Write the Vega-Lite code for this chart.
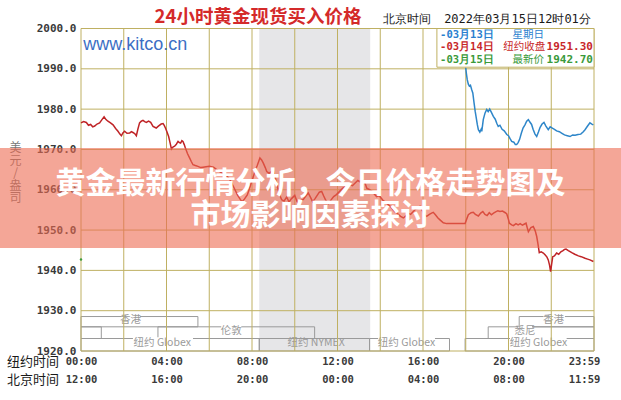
{
  "$schema": "https://vega.github.io/schema/vega-lite/v6.json",
  "width": 513,
  "height": 322.5,
  "autosize": {"type": "none"},
  "padding": {"left": 81, "top": 28.5, "right": 27, "bottom": 49},
  "background": "white",
  "config": {"view": {"stroke": null}},
  "resolve": {"axis": {"x": "independent", "y": "independent"}},
  "datasets": {
    "band": [{"h1": 8.34, "h2": 13.53}],
    "sessions": [
      {"name": "香港A", "h1": 0, "h2": 5.47, "top": 1928.55, "bot": 1926.0},
      {"name": "香港B", "h1": 20.5, "h2": 24, "top": 1928.55, "bot": 1926.0},
      {"name": "悉尼A", "h1": 0, "h2": 0.95, "top": 1926.0, "bot": 1923.1},
      {"name": "伦敦", "h1": 3.6, "h2": 10.93, "top": 1926.0, "bot": 1923.1},
      {"name": "悉尼B", "h1": 19.05, "h2": 24, "top": 1926.0, "bot": 1923.1},
      {"name": "GlobexA", "h1": 0, "h2": 8.34, "top": 1923.1, "bot": 1920},
      {"name": "NYMEX", "h1": 8.34, "h2": 13.5, "top": 1923.1, "bot": 1920},
      {"name": "GlobexB", "h1": 13.5, "h2": 17.24, "top": 1923.1, "bot": 1920},
      {"name": "GlobexC", "h1": 17.97, "h2": 24, "top": 1923.1, "bot": 1920}
    ],
    "covers": [
      {"h1": 1.88, "h2": 2.75, "p1": 1928.25, "p2": 1928.85},
      {"h1": 2.43, "h2": 5.24, "p1": 1922.8, "p2": 1923.4},
      {"h1": 6.56, "h2": 7.5, "p1": 1925.7, "p2": 1926.3},
      {"h1": 13.9, "h2": 16.56, "p1": 1922.8, "p2": 1923.4},
      {"h1": 20.07, "h2": 22.72, "p1": 1922.8, "p2": 1923.4},
      {"h1": 20.45, "h2": 21.1, "p1": 1925.7, "p2": 1926.3},
      {"h1": 21.63, "h2": 22.64, "p1": 1928.25, "p2": 1928.85}
    ],
    "sessionLabels": [
      {"h": 2.31, "p": 1927.6, "t": "香港"},
      {"h": 3.8, "p": 1922.0, "t": "纽约 Globex"},
      {"h": 7.03, "p": 1924.9, "t": "伦敦"},
      {"h": 11.0, "p": 1922.0, "t": "纽约 NYMEX"},
      {"h": 15.23, "p": 1922.0, "t": "纽约 Globex"},
      {"h": 20.77, "p": 1924.9, "t": "悉尼"},
      {"h": 22.1, "p": 1927.6, "t": "香港"},
      {"h": 21.4, "p": 1922.0, "t": "纽约 Globex"}
    ],
    "gridV": [{"h": 0}, {"h": 2}, {"h": 4}, {"h": 6}, {"h": 8}, {"h": 10}, {"h": 12}, {"h": 14}, {"h": 16}, {"h": 18}, {"h": 20}, {"h": 22}, {"h": 24}],
    "gridH": [{"p": 1920}, {"p": 1930}, {"p": 1940}, {"p": 1950}, {"p": 1960}, {"p": 1970}, {"p": 1980}, {"p": 1990}, {"p": 2000}],
    "red": [
      {"h": 0.00, "p": 1976.6}, {"h": 0.12, "p": 1976.9}, {"h": 0.25, "p": 1976.7}, {"h": 0.35, "p": 1976.0}, {"h": 0.45, "p": 1976.2},
      {"h": 0.55, "p": 1975.6}, {"h": 0.64, "p": 1975.8}, {"h": 0.75, "p": 1976.3}, {"h": 0.87, "p": 1976.6}, {"h": 0.98, "p": 1977.4},
      {"h": 1.08, "p": 1978.1}, {"h": 1.17, "p": 1977.4}, {"h": 1.26, "p": 1977.0}, {"h": 1.38, "p": 1976.6}, {"h": 1.50, "p": 1976.1},
      {"h": 1.62, "p": 1975.2}, {"h": 1.73, "p": 1974.5}, {"h": 1.82, "p": 1973.8}, {"h": 1.89, "p": 1973.4}, {"h": 1.96, "p": 1974.1},
      {"h": 2.04, "p": 1974.5}, {"h": 2.15, "p": 1974.0}, {"h": 2.28, "p": 1974.1}, {"h": 2.36, "p": 1974.4}, {"h": 2.43, "p": 1974.2},
      {"h": 2.52, "p": 1973.9}, {"h": 2.59, "p": 1973.4}, {"h": 2.66, "p": 1975.0}, {"h": 2.74, "p": 1976.6}, {"h": 2.82, "p": 1977.0},
      {"h": 2.90, "p": 1977.2}, {"h": 2.98, "p": 1976.9}, {"h": 3.06, "p": 1976.7}, {"h": 3.16, "p": 1977.0}, {"h": 3.26, "p": 1976.7},
      {"h": 3.37, "p": 1975.7}, {"h": 3.45, "p": 1975.5}, {"h": 3.52, "p": 1975.3}, {"h": 3.58, "p": 1975.6}, {"h": 3.65, "p": 1975.9},
      {"h": 3.75, "p": 1976.3}, {"h": 3.84, "p": 1976.4}, {"h": 3.90, "p": 1975.9}, {"h": 3.95, "p": 1975.3}, {"h": 4.02, "p": 1974.4},
      {"h": 4.10, "p": 1973.2}, {"h": 4.16, "p": 1971.8}, {"h": 4.23, "p": 1970.1}, {"h": 4.30, "p": 1970.6}, {"h": 4.38, "p": 1970.8},
      {"h": 4.46, "p": 1971.3}, {"h": 4.54, "p": 1972.0}, {"h": 4.60, "p": 1971.7}, {"h": 4.66, "p": 1971.6}, {"h": 4.72, "p": 1972.2},
      {"h": 4.77, "p": 1972.0}, {"h": 4.83, "p": 1971.2}, {"h": 4.88, "p": 1970.4}, {"h": 4.98, "p": 1969.0}, {"h": 5.08, "p": 1967.9},
      {"h": 5.16, "p": 1967.0}, {"h": 5.24, "p": 1966.2}, {"h": 5.35, "p": 1966.0}, {"h": 5.47, "p": 1965.8}, {"h": 5.60, "p": 1965.5},
      {"h": 5.71, "p": 1965.6}, {"h": 5.85, "p": 1965.7}, {"h": 6.00, "p": 1965.8}, {"h": 6.20, "p": 1965.6}, {"h": 6.35, "p": 1965.0},
      {"h": 6.49, "p": 1964.5}, {"h": 6.65, "p": 1963.9}, {"h": 6.86, "p": 1963.2}, {"h": 7.00, "p": 1962.2}, {"h": 7.13, "p": 1960.8},
      {"h": 7.25, "p": 1959.5}, {"h": 7.32, "p": 1958.7}, {"h": 7.45, "p": 1957.6}, {"h": 7.54, "p": 1957.0}, {"h": 7.62, "p": 1957.5},
      {"h": 7.70, "p": 1958.1}, {"h": 7.78, "p": 1958.7}, {"h": 7.90, "p": 1960.6}, {"h": 8.06, "p": 1963.2}, {"h": 8.15, "p": 1964.8},
      {"h": 8.25, "p": 1966.1}, {"h": 8.37, "p": 1967.9}, {"h": 8.45, "p": 1967.4}, {"h": 8.53, "p": 1966.6}, {"h": 8.62, "p": 1965.5},
      {"h": 8.69, "p": 1964.5}, {"h": 8.80, "p": 1964.1}, {"h": 8.90, "p": 1964.5}, {"h": 8.99, "p": 1964.9}, {"h": 9.10, "p": 1962.8},
      {"h": 9.20, "p": 1960.5}, {"h": 9.30, "p": 1958.6}, {"h": 9.39, "p": 1957.5}, {"h": 9.50, "p": 1957.2}, {"h": 9.62, "p": 1958.2},
      {"h": 9.73, "p": 1957.0}, {"h": 9.85, "p": 1957.8}, {"h": 10.00, "p": 1958.6}, {"h": 10.10, "p": 1957.2}, {"h": 10.20, "p": 1956.4},
      {"h": 10.30, "p": 1957.3}, {"h": 10.40, "p": 1957.6}, {"h": 10.50, "p": 1958.3}, {"h": 10.63, "p": 1959.2}, {"h": 10.75, "p": 1958.0},
      {"h": 10.84, "p": 1957.0}, {"h": 10.95, "p": 1957.8}, {"h": 11.05, "p": 1958.6}, {"h": 11.15, "p": 1959.4}, {"h": 11.26, "p": 1959.6},
      {"h": 11.35, "p": 1958.5}, {"h": 11.45, "p": 1957.4}, {"h": 11.58, "p": 1956.6}, {"h": 11.70, "p": 1957.5}, {"h": 11.82, "p": 1958.3},
      {"h": 11.95, "p": 1958.8}, {"h": 12.10, "p": 1959.6}, {"h": 12.25, "p": 1960.4}, {"h": 12.40, "p": 1960.8}, {"h": 12.55, "p": 1961.3},
      {"h": 12.70, "p": 1961.0}, {"h": 12.85, "p": 1961.8}, {"h": 12.95, "p": 1962.3}, {"h": 13.05, "p": 1962.0}, {"h": 13.16, "p": 1962.6},
      {"h": 13.28, "p": 1961.8}, {"h": 13.37, "p": 1960.4}, {"h": 13.50, "p": 1960.0}, {"h": 13.62, "p": 1959.6}, {"h": 13.71, "p": 1959.0},
      {"h": 13.83, "p": 1958.3}, {"h": 13.95, "p": 1958.5}, {"h": 14.05, "p": 1957.9}, {"h": 14.14, "p": 1957.3}, {"h": 14.27, "p": 1956.8},
      {"h": 14.40, "p": 1956.2}, {"h": 14.50, "p": 1955.7}, {"h": 14.61, "p": 1955.0}, {"h": 14.72, "p": 1954.4}, {"h": 14.82, "p": 1954.0},
      {"h": 14.95, "p": 1953.4}, {"h": 15.08, "p": 1953.0}, {"h": 15.20, "p": 1953.5}, {"h": 15.30, "p": 1954.2}, {"h": 15.42, "p": 1953.9},
      {"h": 15.55, "p": 1954.6}, {"h": 15.66, "p": 1955.2}, {"h": 15.78, "p": 1955.4}, {"h": 15.86, "p": 1955.9}, {"h": 15.95, "p": 1955.0},
      {"h": 16.05, "p": 1953.9}, {"h": 16.17, "p": 1953.4}, {"h": 16.30, "p": 1953.9}, {"h": 16.40, "p": 1954.2}, {"h": 16.48, "p": 1954.4},
      {"h": 16.58, "p": 1953.8}, {"h": 16.70, "p": 1953.0}, {"h": 16.82, "p": 1952.4}, {"h": 16.95, "p": 1951.8}, {"h": 17.10, "p": 1951.6},
      {"h": 17.97, "p": 1951.6}, {"h": 18.05, "p": 1952.8}, {"h": 18.12, "p": 1953.8}, {"h": 18.25, "p": 1954.3}, {"h": 18.35, "p": 1954.4},
      {"h": 18.45, "p": 1953.9}, {"h": 18.59, "p": 1953.5}, {"h": 18.70, "p": 1954.2}, {"h": 18.80, "p": 1954.6}, {"h": 18.90, "p": 1953.9},
      {"h": 19.00, "p": 1953.6}, {"h": 19.10, "p": 1954.3}, {"h": 19.20, "p": 1953.8}, {"h": 19.30, "p": 1954.2}, {"h": 19.40, "p": 1954.5},
      {"h": 19.50, "p": 1954.8}, {"h": 19.60, "p": 1954.6}, {"h": 19.72, "p": 1954.7}, {"h": 19.85, "p": 1954.3}, {"h": 19.92, "p": 1954.0},
      {"h": 20.00, "p": 1952.6}, {"h": 20.04, "p": 1951.7}, {"h": 20.15, "p": 1951.3}, {"h": 20.23, "p": 1951.1}, {"h": 20.35, "p": 1951.6},
      {"h": 20.45, "p": 1951.3}, {"h": 20.55, "p": 1951.6}, {"h": 20.65, "p": 1951.2}, {"h": 20.75, "p": 1951.5}, {"h": 20.82, "p": 1951.7},
      {"h": 20.88, "p": 1950.5}, {"h": 20.93, "p": 1949.6}, {"h": 21.05, "p": 1950.6}, {"h": 21.16, "p": 1950.9}, {"h": 21.25, "p": 1949.8},
      {"h": 21.32, "p": 1948.4}, {"h": 21.38, "p": 1946.5}, {"h": 21.44, "p": 1944.4}, {"h": 21.53, "p": 1944.6}, {"h": 21.63, "p": 1944.3},
      {"h": 21.72, "p": 1943.8}, {"h": 21.80, "p": 1943.3}, {"h": 21.86, "p": 1942.6}, {"h": 21.92, "p": 1941.3}, {"h": 21.97, "p": 1939.7},
      {"h": 22.02, "p": 1941.6}, {"h": 22.07, "p": 1943.4}, {"h": 22.15, "p": 1943.6}, {"h": 22.25, "p": 1944.3}, {"h": 22.35, "p": 1944.0},
      {"h": 22.45, "p": 1944.6}, {"h": 22.55, "p": 1944.9}, {"h": 22.62, "p": 1945.2}, {"h": 22.69, "p": 1945.3}, {"h": 22.80, "p": 1944.9},
      {"h": 22.90, "p": 1944.6}, {"h": 22.96, "p": 1944.4}, {"h": 23.10, "p": 1944.0}, {"h": 23.27, "p": 1943.6}, {"h": 23.40, "p": 1943.4},
      {"h": 23.58, "p": 1943.0}, {"h": 23.70, "p": 1942.8}, {"h": 23.81, "p": 1942.6}, {"h": 23.97, "p": 1942.2}
    ],
    "blue": [
      {"h": 18.00, "p": 1990.2}, {"h": 18.03, "p": 1988.8}, {"h": 18.07, "p": 1987.3}, {"h": 18.12, "p": 1986.2}, {"h": 18.17, "p": 1985.7},
      {"h": 18.22, "p": 1985.9}, {"h": 18.28, "p": 1984.8}, {"h": 18.33, "p": 1984.0}, {"h": 18.39, "p": 1981.5}, {"h": 18.44, "p": 1979.5},
      {"h": 18.48, "p": 1978.2}, {"h": 18.54, "p": 1976.2}, {"h": 18.59, "p": 1974.9}, {"h": 18.66, "p": 1974.3}, {"h": 18.72, "p": 1975.0},
      {"h": 18.75, "p": 1974.5}, {"h": 18.82, "p": 1977.4}, {"h": 18.90, "p": 1979.0}, {"h": 18.98, "p": 1979.9}, {"h": 19.05, "p": 1979.4},
      {"h": 19.12, "p": 1980.0}, {"h": 19.20, "p": 1979.2}, {"h": 19.29, "p": 1978.2}, {"h": 19.38, "p": 1977.5}, {"h": 19.45, "p": 1976.5},
      {"h": 19.52, "p": 1975.7}, {"h": 19.60, "p": 1976.0}, {"h": 19.70, "p": 1975.0}, {"h": 19.80, "p": 1974.6}, {"h": 19.92, "p": 1973.7},
      {"h": 20.00, "p": 1973.4}, {"h": 20.08, "p": 1972.6}, {"h": 20.15, "p": 1972.0}, {"h": 20.25, "p": 1971.8}, {"h": 20.32, "p": 1971.2},
      {"h": 20.38, "p": 1971.2}, {"h": 20.45, "p": 1971.7}, {"h": 20.52, "p": 1972.5}, {"h": 20.60, "p": 1974.0}, {"h": 20.68, "p": 1975.3},
      {"h": 20.77, "p": 1976.1}, {"h": 20.85, "p": 1977.0}, {"h": 20.93, "p": 1977.4}, {"h": 21.00, "p": 1976.8}, {"h": 21.08, "p": 1976.2},
      {"h": 21.15, "p": 1975.0}, {"h": 21.24, "p": 1973.8}, {"h": 21.32, "p": 1973.2}, {"h": 21.40, "p": 1974.3}, {"h": 21.48, "p": 1975.5},
      {"h": 21.57, "p": 1976.3}, {"h": 21.66, "p": 1976.7}, {"h": 21.75, "p": 1975.8}, {"h": 21.86, "p": 1974.9}, {"h": 21.95, "p": 1975.6},
      {"h": 22.05, "p": 1975.3}, {"h": 22.15, "p": 1975.0}, {"h": 22.25, "p": 1974.6}, {"h": 22.38, "p": 1974.4}, {"h": 22.50, "p": 1974.0},
      {"h": 22.62, "p": 1973.6}, {"h": 22.75, "p": 1973.4}, {"h": 22.88, "p": 1973.2}, {"h": 23.00, "p": 1973.6}, {"h": 23.12, "p": 1973.5},
      {"h": 23.25, "p": 1973.7}, {"h": 23.38, "p": 1973.8}, {"h": 23.50, "p": 1974.4}, {"h": 23.58, "p": 1974.9}, {"h": 23.70, "p": 1975.8},
      {"h": 23.81, "p": 1976.6}, {"h": 23.90, "p": 1976.3}, {"h": 23.97, "p": 1976.1}
    ],
    "green": [{"h": 0, "p": 1942.7}],
    "legendBox": [{"h1": 16.65, "h2": 24, "p1": 1990.4, "p2": 2000}],
    "legendLeft": [
      {"h": 16.8, "p": 1998.5, "t": "-03月13日", "s": "13"},
      {"h": 16.8, "p": 1995.4, "t": "-03月14日", "s": "14"},
      {"h": 16.8, "p": 1992.3, "t": "-03月15日", "s": "15"}
    ],
    "legendMid": [
      {"h": 21.66, "p": 1998.5, "t": "星期日", "s": "13"},
      {"h": 21.72, "p": 1995.4, "t": "纽约收盘", "s": "14"},
      {"h": 21.66, "p": 1992.3, "t": "最新价", "s": "15"}
    ],
    "legendNum": [
      {"h": 23.95, "p": 1995.4, "t": "1951.30", "s": "14"},
      {"h": 23.95, "p": 1992.3, "t": "1942.70", "s": "15"}
    ],
    "title": [{"h": 8.28, "p": 2002.95, "t": "24小时黄金现货买入价格"}],
    "header": [
      {"h": 15.23, "p": 2002.35, "t": "北京时间"},
      {"h": 20.42, "p": 2002.35, "t": "2022年03月15日12时01分"}
    ],
    "site": [{"h": 0.1, "p": 1995.9, "t": "www.kitco.cn"}],
    "rowHeads": [
      {"h": -1.03, "p": 1917.25, "t": "纽约时间"},
      {"h": -1.03, "p": 1912.8, "t": "北京时间"}
    ],
    "banner": [{"h1": -3.8, "h2": 25.3, "p1": 1945.55, "p2": 1970.35}],
    "bannerText": [
      {"h": 10.74, "p": 1961.4, "t": "黄金最新行情分析，今日价格走势图及"},
      {"h": 10.74, "p": 1953.5, "t": "市场影响因素探讨"}
    ]
  },
  "layer": [
    {
      "data": {"name": "band"},
      "mark": {"type": "rect", "color": "#e6e6e8"},
      "encoding": {
        "x": {"field": "h1", "type": "quantitative", "scale": {"domain": [0, 24], "nice": false, "zero": false},
          "axis": {
            "values": [0, 4, 8, 12, 16, 20, 24],
            "labelExpr": "datum.value==0?['00:00','12:00']:datum.value==4?['04:00','16:00']:datum.value==8?['08:00','20:00']:datum.value==12?['12:00','00:00']:datum.value==16?['16:00','04:00']:datum.value==20?['20:00','08:00']:['23:59','11:59']",
            "labelOffset": {"condition": {"test": "datum.value == 24", "value": -10}, "value": 0},
            "grid": false, "ticks": false, "domain": false, "title": null,
            "labelPadding": 5, "labelFont": "DejaVu Sans Mono", "labelFontWeight": "bold", "labelFontSize": 10.5,
            "labelColor": "#3a3a3a", "labelLineHeight": 18, "labelBaseline": "top", "labelFlush": false, "labelOverlap": false, "zindex": 0
          }},
        "x2": {"field": "h2"},
        "y": {"datum": 1920, "type": "quantitative", "scale": {"domain": [1920, 2000], "nice": false, "zero": false},
          "axis": {
            "values": [1920, 1930, 1940, 1950, 1960, 1970, 1980, 1990, 2000],
            "format": ".1f", "grid": false, "ticks": false, "domain": false,
            "labelPadding": 5, "labelFont": "DejaVu Sans Mono", "labelFontWeight": "bold", "labelFontSize": 11,
            "labelColor": "#3a3a3a", "zindex": 0,
            "title": ["美", "元", "/", "盎", "司"], "titleAngle": 0, "titleFont": "Noto Sans CJK SC", "titleFontWeight": "normal",
            "titleFontSize": 12, "titleColor": "#777", "titleLineHeight": 12.5, "titleX": -66, "titleY": 114, "titleAlign": "center", "titleBaseline": "top"
          }},
        "y2": {"datum": 2000}
      }
    },
    {
      "data": {"name": "sessions"},
      "mark": {"type": "rect", "fillOpacity": 0, "stroke": "#9a9a9a", "strokeWidth": 1},
      "encoding": {
        "x": {"field": "h1", "type": "quantitative", "scale": {"domain": [0, 24]}, "axis": null},
        "x2": {"field": "h2"},
        "y": {"field": "top", "type": "quantitative", "scale": {"domain": [1920, 2000]}, "axis": null},
        "y2": {"field": "bot"}
      }
    },
    {
      "data": {"name": "covers"},
      "mark": {"type": "rect", "color": "white"},
      "encoding": {
        "x": {"field": "h1", "type": "quantitative", "scale": {"domain": [0, 24]}, "axis": null},
        "x2": {"field": "h2"},
        "y": {"field": "p1", "type": "quantitative", "scale": {"domain": [1920, 2000]}, "axis": null},
        "y2": {"field": "p2"}
      }
    },
    {
      "data": {"name": "sessionLabels"},
      "mark": {"type": "text", "font": "Noto Sans CJK SC", "fontSize": 10.5, "color": "#9a9a9a", "baseline": "middle", "align": "center"},
      "encoding": {
        "x": {"field": "h", "type": "quantitative", "scale": {"domain": [0, 24]}, "axis": null},
        "y": {"field": "p", "type": "quantitative", "scale": {"domain": [1920, 2000]}, "axis": null},
        "text": {"field": "t"}
      }
    },
    {
      "data": {"name": "gridV"},
      "mark": {"type": "rule", "color": "#bfb062", "strokeWidth": 1},
      "encoding": {
        "x": {"field": "h", "type": "quantitative", "scale": {"domain": [0, 24]}, "axis": null}
      }
    },
    {
      "data": {"name": "gridH"},
      "mark": {"type": "rule", "color": "#bfb062", "strokeWidth": 1},
      "encoding": {
        "y": {"field": "p", "type": "quantitative", "scale": {"domain": [1920, 2000]}, "axis": null}
      }
    },
    {
      "data": {"name": "site"},
      "mark": {"type": "text", "font": "Liberation Sans", "fontSize": 18, "color": "#3d6fc4", "align": "left", "baseline": "middle"},
      "encoding": {
        "x": {"field": "h", "type": "quantitative", "scale": {"domain": [0, 24]}, "axis": null},
        "y": {"field": "p", "type": "quantitative", "scale": {"domain": [1920, 2000]}, "axis": null},
        "text": {"field": "t"}
      }
    },
    {
      "data": {"name": "red"},
      "mark": {"type": "line", "color": "#bf2326", "strokeWidth": 1.5},
      "encoding": {
        "x": {"field": "h", "type": "quantitative", "scale": {"domain": [0, 24]}, "axis": null},
        "y": {"field": "p", "type": "quantitative", "scale": {"domain": [1920, 2000]}, "axis": null}
      }
    },
    {
      "data": {"name": "legendBox"},
      "mark": {"type": "rect", "fill": "white", "stroke": "#bfb062", "strokeWidth": 1},
      "encoding": {
        "x": {"field": "h1", "type": "quantitative", "scale": {"domain": [0, 24]}, "axis": null},
        "x2": {"field": "h2"},
        "y": {"field": "p1", "type": "quantitative", "scale": {"domain": [1920, 2000]}, "axis": null},
        "y2": {"field": "p2"}
      }
    },
    {
      "data": {"name": "blue"},
      "mark": {"type": "line", "color": "#2e86c9", "strokeWidth": 1.5},
      "encoding": {
        "x": {"field": "h", "type": "quantitative", "scale": {"domain": [0, 24]}, "axis": null},
        "y": {"field": "p", "type": "quantitative", "scale": {"domain": [1920, 2000]}, "axis": null}
      }
    },
    {
      "data": {"name": "green"},
      "mark": {"type": "point", "filled": true, "size": 6, "color": "#3c9c3c", "opacity": 1},
      "encoding": {
        "x": {"field": "h", "type": "quantitative", "scale": {"domain": [0, 24]}, "axis": null},
        "y": {"field": "p", "type": "quantitative", "scale": {"domain": [1920, 2000]}, "axis": null}
      }
    },
    {
      "data": {"name": "legendLeft"},
      "mark": {"type": "text", "font": "DejaVu Sans Mono", "fontWeight": "bold", "fontSize": 10.5, "align": "left", "baseline": "middle"},
      "encoding": {
        "x": {"field": "h", "type": "quantitative", "scale": {"domain": [0, 24]}, "axis": null},
        "y": {"field": "p", "type": "quantitative", "scale": {"domain": [1920, 2000]}, "axis": null},
        "text": {"field": "t"},
        "color": {"field": "s", "type": "nominal", "scale": {"domain": ["13", "14", "15"], "range": ["#2a7fcf", "#c8282a", "#3a9a3a"]}, "legend": null}
      }
    },
    {
      "data": {"name": "legendMid"},
      "mark": {"type": "text", "font": "Noto Sans CJK SC", "fontSize": 10.5, "align": "right", "baseline": "middle"},
      "encoding": {
        "x": {"field": "h", "type": "quantitative", "scale": {"domain": [0, 24]}, "axis": null},
        "y": {"field": "p", "type": "quantitative", "scale": {"domain": [1920, 2000]}, "axis": null},
        "text": {"field": "t"},
        "color": {"field": "s", "type": "nominal", "scale": {"domain": ["13", "14", "15"], "range": ["#2a7fcf", "#c8282a", "#3a9a3a"]}, "legend": null}
      }
    },
    {
      "data": {"name": "legendNum"},
      "mark": {"type": "text", "font": "DejaVu Sans Mono", "fontWeight": "bold", "fontSize": 11, "align": "right", "baseline": "middle"},
      "encoding": {
        "x": {"field": "h", "type": "quantitative", "scale": {"domain": [0, 24]}, "axis": null},
        "y": {"field": "p", "type": "quantitative", "scale": {"domain": [1920, 2000]}, "axis": null},
        "text": {"field": "t"},
        "color": {"field": "s", "type": "nominal", "scale": {"domain": ["13", "14", "15"], "range": ["#2a7fcf", "#c8282a", "#3a9a3a"]}, "legend": null}
      }
    },
    {
      "data": {"name": "title"},
      "mark": {"type": "text", "font": "Noto Sans CJK SC", "fontSize": 18.5, "fontWeight": "bold", "color": "#d42a2a", "align": "center", "baseline": "middle"},
      "encoding": {
        "x": {"field": "h", "type": "quantitative", "scale": {"domain": [0, 24]}, "axis": null},
        "y": {"field": "p", "type": "quantitative", "scale": {"domain": [1920, 2000]}, "axis": null},
        "text": {"field": "t"}
      }
    },
    {
      "data": {"name": "header"},
      "mark": {"type": "text", "font": "DejaVu Sans Mono", "fontSize": 12, "color": "#1a1a1a", "align": "center", "baseline": "middle"},
      "encoding": {
        "x": {"field": "h", "type": "quantitative", "scale": {"domain": [0, 24]}, "axis": null},
        "y": {"field": "p", "type": "quantitative", "scale": {"domain": [1920, 2000]}, "axis": null},
        "text": {"field": "t"}
      }
    },
    {
      "data": {"name": "rowHeads"},
      "mark": {"type": "text", "font": "Noto Sans CJK SC", "fontSize": 13, "color": "#1a1a1a", "align": "right", "baseline": "middle"},
      "encoding": {
        "x": {"field": "h", "type": "quantitative", "scale": {"domain": [0, 24]}, "axis": null},
        "y": {"field": "p", "type": "quantitative", "scale": {"domain": [1920, 2000]}, "axis": null},
        "text": {"field": "t"}
      }
    },
    {
      "data": {"name": "banner"},
      "mark": {"type": "rect", "color": "#ec6a52", "opacity": 0.6},
      "encoding": {
        "x": {"field": "h1", "type": "quantitative", "scale": {"domain": [0, 24]}, "axis": null},
        "x2": {"field": "h2"},
        "y": {"field": "p1", "type": "quantitative", "scale": {"domain": [1920, 2000]}, "axis": null},
        "y2": {"field": "p2"}
      }
    },
    {
      "data": {"name": "bannerText"},
      "mark": {"type": "text", "font": "Noto Sans CJK SC", "fontSize": 30, "fontWeight": "bold", "color": "white", "align": "center", "baseline": "middle"},
      "encoding": {
        "x": {"field": "h", "type": "quantitative", "scale": {"domain": [0, 24]}, "axis": null},
        "y": {"field": "p", "type": "quantitative", "scale": {"domain": [1920, 2000]}, "axis": null},
        "text": {"field": "t"}
      }
    }
  ]
}
